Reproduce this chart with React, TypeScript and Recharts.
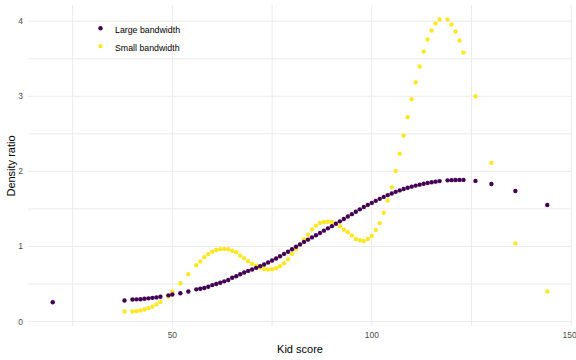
import { ReferenceLine, Scatter, ScatterChart, XAxis, YAxis, Legend, Label } from "recharts";

const kidScore = [
  20, 38, 40, 41, 42, 43, 44, 45, 46, 47, 49, 50, 52, 54, 56, 57, 58, 59, 60, 61, 62, 63, 64, 65, 66, 67,
  68, 69, 70, 71, 72, 73, 74, 75, 76, 77, 78, 79, 80, 81, 82, 83, 84, 85, 86, 87, 88, 89, 90, 91, 92, 93,
  94, 95, 96, 97, 98, 99, 100, 101, 102, 103, 104, 105, 106, 107, 108, 109, 110, 111, 112, 113, 114, 115,
  116, 117, 119, 120, 121, 122, 123, 126, 130, 136, 144,
];

const largeBandwidth = [
  0.257, 0.28, 0.293, 0.295, 0.297, 0.302, 0.308, 0.315, 0.321, 0.33, 0.348, 0.36, 0.376, 0.4, 0.428, 0.437,
  0.447, 0.462, 0.485, 0.5, 0.516, 0.535, 0.553, 0.583, 0.603, 0.629, 0.652, 0.674, 0.692, 0.714, 0.737, 0.759,
  0.786, 0.812, 0.839, 0.869, 0.9, 0.93, 0.962, 0.995, 1.027, 1.06, 1.09, 1.12, 1.149, 1.179, 1.21, 1.241,
  1.27, 1.302, 1.334, 1.366, 1.398, 1.43, 1.462, 1.494, 1.525, 1.553, 1.58, 1.607, 1.634, 1.66, 1.684, 1.705,
  1.727, 1.746, 1.765, 1.781, 1.796, 1.81, 1.823, 1.835, 1.846, 1.855, 1.863, 1.87, 1.88, 1.883, 1.885, 1.886,
  1.886, 1.873, 1.832, 1.739, 1.552,
];

// no visible small-bandwidth point at kid score 20
const smallBandwidth = [
  null, 0.134, 0.134, 0.136, 0.147, 0.16, 0.18, 0.198, 0.228, 0.259, 0.33, 0.4, 0.51, 0.63, 0.75, 0.8, 0.857,
  0.897, 0.93, 0.952, 0.964, 0.966, 0.962, 0.942, 0.922, 0.879, 0.844, 0.804, 0.768, 0.744, 0.719, 0.7, 0.694,
  0.696, 0.71, 0.737, 0.777, 0.83, 0.9, 0.964, 1.027, 1.094, 1.156, 1.225, 1.277, 1.312, 1.326, 1.328, 1.326,
  1.304, 1.268, 1.223, 1.188, 1.145, 1.098, 1.083, 1.072, 1.098, 1.14, 1.22, 1.31, 1.449, 1.612, 1.787, 2.004,
  2.236, 2.478, 2.72, 2.96, 3.186, 3.398, 3.597, 3.757, 3.876, 3.969, 4.022, 4.022, 3.956, 3.863, 3.743, 3.584,
  3.0, 2.113, 1.04, 0.4,
];

const xTicks = [50, 100, 150];
const yTicks = [0, 1, 2, 3, 4];
const xGrid = [25, 50, 75, 100, 125, 150];
const yGrid = [0, 0.5, 1, 1.5, 2, 2.5, 3, 3.5, 4];

const SERIES = [
  { name: "Large bandwidth", color: "#440154", values: largeBandwidth },
  { name: "Small bandwidth", color: "#FDE725", values: smallBandwidth },
];

const FONT = "'Liberation Sans', Arial, sans-serif";
const GRID = "#EBEBEB";

function toPoints(values: (number | null)[]) {
  return kidScore
    .map((x, i) => ({ x, y: values[i] }))
    .filter((p) => p.y !== null);
}

const Dot = (color: string) => (props: any) =>
  <circle cx={props.cx} cy={props.cy} r={2.2} fill={color} />;

function LegendBox() {
  return (
    <svg width={120} height={40} style={{ display: "block" }}>
      {SERIES.map((s, i) => (
        <g key={s.name}>
          <circle cx={8.5} cy={10.3 + i * 17.8} r={2.2} fill={s.color} />
          <text x={23} y={14.7 + i * 18} fontSize={8.8} fontFamily={FONT} fill="#000">
            {s.name}
          </text>
        </g>
      ))}
    </svg>
  );
}

export default function App() {
  const large = toPoints(largeBandwidth);
  const small = toPoints(smallBandwidth);

  return (
    <div style={{ position: "absolute", left: 0, top: 0, width: 576, height: 360, background: "#fff" }}>
      <ScatterChart width={576} height={360} margin={{ top: 5, right: 4, bottom: 0, left: 0 }}>
        {xGrid.map((v) => (
          <ReferenceLine key={"x" + v} x={v} stroke={GRID} strokeWidth={1} />
        ))}
        {yGrid.map((v) => (
          <ReferenceLine key={"y" + v} y={v} stroke={GRID} strokeWidth={1} />
        ))}
        <XAxis
          type="number"
          dataKey="x"
          domain={[13.8, 150.2]}
          ticks={xTicks}
          allowDataOverflow
          height={34}
          tickSize={4}
          tickMargin={2}
          tickLine={false}
          axisLine={false}
          tick={{ fontSize: 8.5, fill: "#4D4D4D", fontFamily: FONT }}
        >
          <Label
            content={() => (
              <text x={300} y={353} textAnchor="middle" fontSize={11} fontFamily={FONT} fill="#000">
                Kid score
              </text>
            )}
          />
        </XAxis>
        <YAxis
          type="number"
          dataKey="y"
          domain={[-0.06, 4.216]}
          ticks={yTicks}
          allowDataOverflow
          width={28}
          tickSize={3}
          tickMargin={2}
          tickLine={false}
          axisLine={false}
          tick={{ fontSize: 8.5, fill: "#4D4D4D", fontFamily: FONT }}
        >
          <Label
            content={() => (
              <text
                x={14.5}
                y={166}
                transform="rotate(-90 14.5 166)"
                textAnchor="middle"
                fontSize={11}
                fontFamily={FONT}
                fill="#000"
              >
                Density ratio
              </text>
            )}
          />
        </YAxis>
        <Legend
          layout="horizontal"
          align="center"
          verticalAlign="middle"
          wrapperStyle={{ left: 92, top: 18, width: 120, height: 40 }}
          content={() => <LegendBox />}
        />
        <Scatter
          name="Small bandwidth"
          data={small}
          fill="#FDE725"
          shape={Dot("#FDE725")}
          isAnimationActive={false}
        />
        <Scatter
          name="Large bandwidth"
          data={large}
          fill="#440154"
          shape={Dot("#440154")}
          isAnimationActive={false}
        />
      </ScatterChart>
    </div>
  );
}
